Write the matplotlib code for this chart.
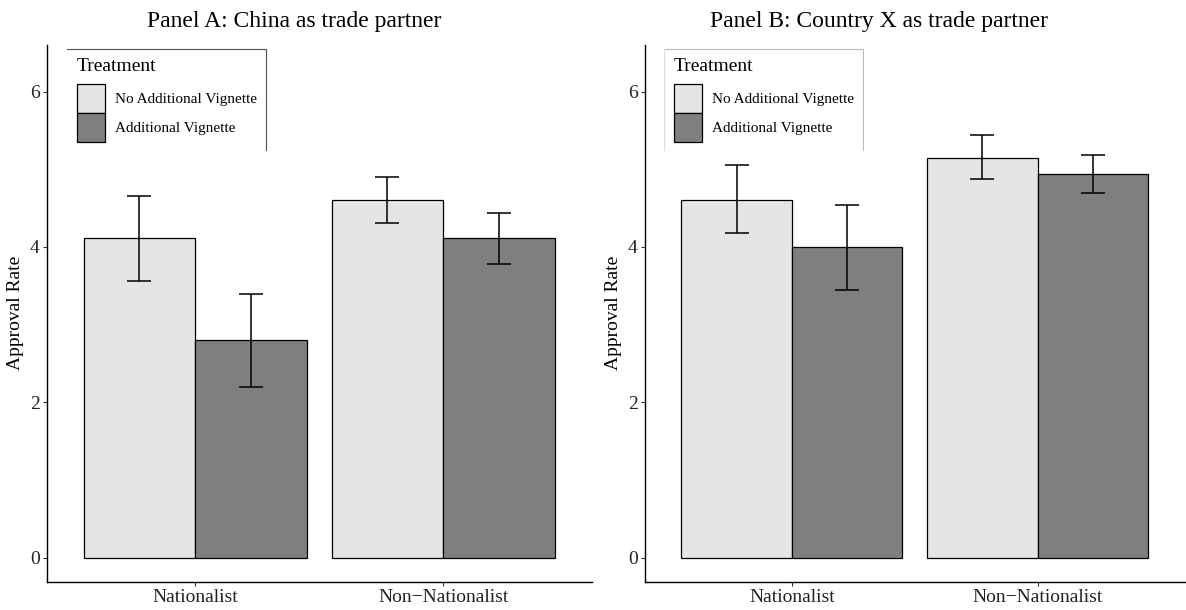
import numpy as np
import matplotlib
matplotlib.use("Agg")
from matplotlib import pyplot as plt
from matplotlib.patches import Patch
from matplotlib.lines import Line2D

plt.rcParams['font.family'] = ['Liberation Serif', 'DejaVu Serif']

# data
groups = ['Nationalist', 'Non\u2212Nationalist']
treatments = ['No Additional Vignette', 'Additional Vignette']
colors = ['#E5E5E5', '#7F7F7F']

# Panel A: China as trade partner  (rows = treatment, cols = group)
china_mean = [[4.12, 4.61], [2.80, 4.12]]
china_lo = [[3.56, 4.31], [2.20, 3.78]]
china_hi = [[4.66, 4.90], [3.40, 4.44]]

# Panel B: Country X as trade partner
cx_mean = [[4.61, 5.15], [4.00, 4.94]]
cx_lo = [[4.18, 4.88], [3.45, 4.70]]
cx_hi = [[5.05, 5.44], [4.54, 5.18]]

titles = ['Panel A: China as trade partner', 'Panel B: Country X as trade partner']

W, H = 1186, 610
fig = plt.figure(figsize=(W / 100, H / 100), dpi=100)

# axes boxes in pixels: left, right
boxes = [(46.5, 592.0), (644.5, 1185.0)]
top_px, bot_px = 45.0, 581.7
title_x = [294, 879]
# legend geometry in pixels (key left, frame left, frame right)
leg_key_x = [76.5, 673.5]
frame_x = [(67, 265.5), (664, 863)]
frame_col = ['#555555', '#BBBBBB']

panels = [(china_mean, china_lo, china_hi), (cx_mean, cx_lo, cx_hi)]
x = np.arange(1, len(groups) + 1)
bw = 0.45


def ax_x(px, l, r):
    return (px - l) / (r - l)


def ax_y(py):
    return 1 - (py - top_px) / (bot_px - top_px)


for i, (means, los, his) in enumerate(panels):
    l, r = boxes[i]
    ax = fig.add_axes([l / W, 1 - bot_px / H, (r - l) / W, (bot_px - top_px) / H])
    for j in range(len(treatments)):
        pos = x + (j - 0.5) * bw
        m = np.array(means[j])
        lo = np.array(los[j])
        hi = np.array(his[j])
        ax.bar(pos, m, width=bw, color=colors[j], edgecolor='black', linewidth=0.9,
               zorder=2)
        ax.errorbar(pos, m, yerr=[m - lo, hi - m], fmt='none', ecolor='black',
                    elinewidth=1.1, capsize=8.6, capthick=1.1, zorder=3)
    ax.set_xlim(0.4, 2.6)
    ax.set_ylim(-0.31, 6.6)
    ax.set_yticks([0, 2, 4, 6])
    ax.set_xticks(x)
    ax.set_xticklabels(groups)
    ax.spines['top'].set_visible(False)
    ax.spines['right'].set_visible(False)
    for s in ['left', 'bottom']:
        ax.spines[s].set_linewidth(1.0)
    ax.tick_params(axis='both', length=3, width=0.8, colors='#333333',
                   labelsize=14, pad=2)
    ax.tick_params(axis='both', labelcolor='#222222')
    ax.set_ylabel('Approval Rate', fontsize=14, labelpad=4)
    fig.text(title_x[i] / W, 1 - 21 / H, titles[i], fontsize=17, ha='center', va='center')

    # legend: title as separate text, keys below it
    kx = ax_x(leg_key_x[i], l, r)
    ax.text(kx, ax_y(66.5), 'Treatment', transform=ax.transAxes, fontsize=14,
            ha='left', va='center')
    handles = [Patch(facecolor=c, edgecolor='black', linewidth=0.9) for c in colors]
    ax.legend(handles, treatments, loc='upper left',
              bbox_to_anchor=(kx, ax_y(84)),
              frameon=False, fontsize=11,
              handlelength=1.85, handleheight=2.54, labelspacing=0.0,
              handletextpad=0.7, borderpad=0, borderaxespad=0)
    # partial legend frame like the reference
    lx0 = ax_x(frame_x[i][0], l, r)
    lx1 = ax_x(frame_x[i][1], l, r)
    ly0 = ax_y(150)
    ly1 = ax_y(49.3)
    ax.add_line(Line2D([lx0, lx1], [ly1, ly1], transform=ax.transAxes, color=frame_col[i],
                       linewidth=0.8, clip_on=False))
    ax.add_line(Line2D([lx1, lx1], [ly1, ly0], transform=ax.transAxes, color=frame_col[i],
                       linewidth=0.8, clip_on=False))
    if i == 1:
        ax.add_line(Line2D([lx0, lx0], [ly1, ly0], transform=ax.transAxes, color='#DDDDDD',
                           linewidth=0.8, clip_on=False))

fig.savefig('out.png', dpi=100)
